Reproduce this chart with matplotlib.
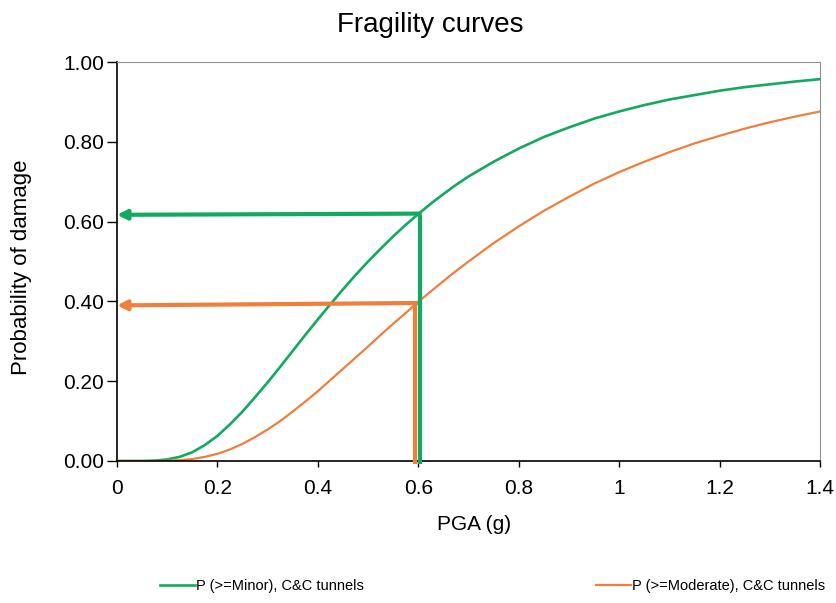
import numpy as np
import matplotlib.pyplot as plt

plt.rcParams['font.family'] = ['Liberation Sans', 'DejaVu Sans']

# PGA (g) sample points
pga = [0.0, 0.025, 0.05, 0.075, 0.1, 0.125, 0.15, 0.175, 0.2, 0.225, 0.25, 0.275, 0.3,
       0.325, 0.35, 0.375, 0.4, 0.425, 0.45, 0.475, 0.5, 0.525, 0.55, 0.575, 0.6,
       0.625, 0.65, 0.675, 0.7, 0.75, 0.8, 0.85, 0.9, 0.95, 1.0, 1.05, 1.1, 1.15, 1.2,
       1.25, 1.3, 1.35, 1.4]
# P(>=Minor), C&C tunnels
p_minor = [0.0, 0.0, 0.0001, 0.0008, 0.004, 0.0104, 0.022, 0.040, 0.063, 0.092, 0.124,
           0.160, 0.197, 0.236, 0.276, 0.316, 0.355, 0.393, 0.430, 0.466, 0.500, 0.532,
           0.563, 0.592, 0.619, 0.645, 0.669, 0.692, 0.713, 0.750, 0.783, 0.812, 0.836,
           0.858, 0.876, 0.892, 0.906, 0.917, 0.928, 0.937, 0.944, 0.951, 0.957]
# P(>=Moderate), C&C tunnels
p_moderate = [0.0, 0.0, 0.0, 0.0001, 0.0006, 0.002, 0.005, 0.0104, 0.018, 0.029, 0.043,
              0.060, 0.079, 0.100, 0.124, 0.149, 0.175, 0.203, 0.231, 0.259, 0.287, 0.316,
              0.344, 0.371, 0.399, 0.425, 0.451, 0.476, 0.500, 0.546, 0.588, 0.627, 0.662,
              0.695, 0.724, 0.750, 0.774, 0.796, 0.815, 0.833, 0.849, 0.863, 0.876]

# readings for PGA = 0.6 g
pga_read = 0.6
minor_read = 0.617
moderate_read = 0.39

xticks = [0, 0.2, 0.4, 0.6, 0.8, 1.0, 1.2, 1.4]
xtick_labels = ['0', '0.2', '0.4', '0.6', '0.8', '1', '1.2', '1.4']
yticks = [0, 0.2, 0.4, 0.6, 0.8, 1.0]

green = '#12aa5e'
orange = '#f07e3c'

fig = plt.figure(figsize=(8.37, 6.03), dpi=100)
ax = fig.add_axes([117/837, 1 - 461/603, 703/837, 399/603])

l1, = ax.plot(pga, p_minor, color=green, lw=1.9, label='P (>=Minor), C&C tunnels')
l2, = ax.plot(pga, p_moderate, color=orange, lw=1.6, label='P (>=Moderate), C&C tunnels')

# reading lines with arrows back to the probability axis
ax.plot([pga_read - 0.006, pga_read - 0.006], [-0.008, moderate_read + 0.008], color=orange, lw=3,
        clip_on=False, solid_capstyle='butt', zorder=3)
ax.plot([pga_read + 0.003, pga_read + 0.003], [-0.008, minor_read], color=green, lw=3,
        clip_on=False, solid_capstyle='butt', zorder=4)
ax.annotate('', xy=(0.0, moderate_read), xytext=(pga_read + 0.0, moderate_read + 0.006),
            arrowprops=dict(arrowstyle='-|>', color=orange, lw=3, mutation_scale=14,
                            shrinkA=0, shrinkB=0), zorder=3)
ax.annotate('', xy=(0.0, minor_read), xytext=(pga_read + 0.003, minor_read + 0.003),
            arrowprops=dict(arrowstyle='-|>', color=green, lw=3, mutation_scale=14,
                            shrinkA=0, shrinkB=0), zorder=4)

ax.set_xlim(0, 1.4)
ax.set_ylim(0, 1.0)
ax.set_xticks(xticks)
ax.set_xticklabels(xtick_labels)
ax.set_yticks(yticks)
ax.set_yticklabels(['%.2f' % v for v in yticks])
ax.tick_params(axis='both', labelsize=15, direction='out', width=1)
ax.tick_params(axis='y', length=7, pad=2.5)
ax.tick_params(axis='x', length=4, pad=9)

for s in ['top', 'right']:
    ax.spines[s].set_color('#909090')
    ax.spines[s].set_linewidth(0.8)
for s in ['left', 'bottom']:
    ax.spines[s].set_color('black')
    ax.spines[s].set_linewidth(1.2)

fig.text(430/837, 1 - 25/603, 'Fragility curves', fontsize=20, ha='center', va='center')
fig.text(474/837, 1 - 525/603, 'PGA (g)', fontsize=15, ha='center', va='center')
fig.text(22/837, 1 - 267/603, 'Probability of damage', fontsize=16, rotation=90,
         ha='center', va='center')

# one legend entry each, placed side by side under the plot
leg_kw = dict(loc='center left', frameon=False, fontsize=10.5, handlelength=2.4,
              handletextpad=0.1, borderpad=0, borderaxespad=0)
leg1 = fig.legend([l1], [l1.get_label()], bbox_to_anchor=(160/837, 1 - 586/603), **leg_kw)
leg2 = fig.legend([l2], [l2.get_label()], bbox_to_anchor=(596/837, 1 - 586/603), **leg_kw)

fig.savefig('out.png', dpi=100)
